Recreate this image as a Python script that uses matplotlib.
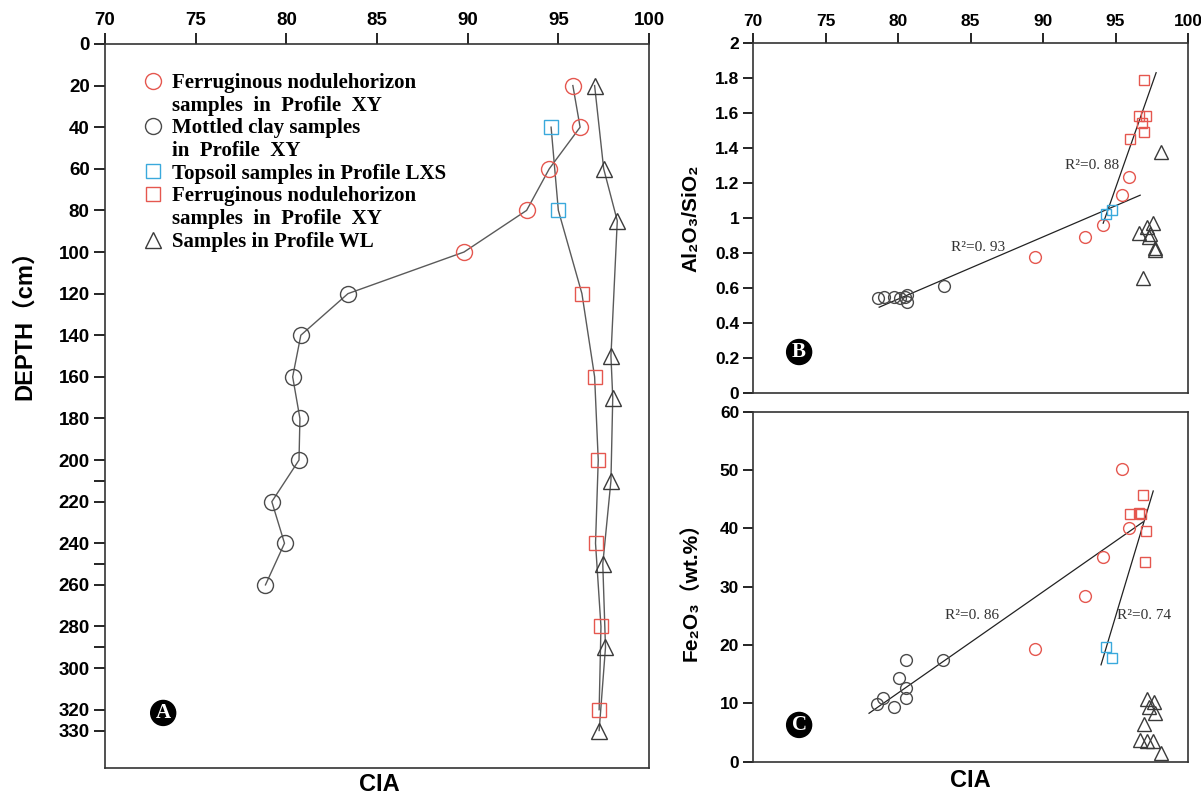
import matplotlib
matplotlib.use("Agg")
import matplotlib.pyplot as plt
from matplotlib.lines import Line2D

# colours
RED = "#e5574f"
BLUE = "#3aa9dc"
GREY = "#4a4a4a"
TRI = "#3a3a3a"
LINE = "#5a5a5a"

# ---- panel A : CIA vs depth ----
xy_red_depth = [20, 40, 60, 80, 100]
xy_red_cia = [95.8, 96.2, 94.5, 93.25, 89.8]
xy_black_depth = [120, 140, 160, 180, 200, 220, 240, 260]
xy_black_cia = [83.4, 80.8, 80.35, 80.75, 80.7, 79.2, 79.9, 78.85]
lxs_depth = [40, 80]
lxs_cia = [94.6, 95.0]
xy_sq_depth = [120, 160, 200, 240, 280, 320]
xy_sq_cia = [96.3, 97.0, 97.2, 97.05, 97.35, 97.25]
wl_depth = [20, 60, 85, 150, 170, 210, 250, 290, 330]
wl_cia = [97.0, 97.5, 98.25, 97.9, 98.0, 97.9, 97.45, 97.6, 97.25]

depth_ticks = [0, 20, 40, 60, 80, 100, 120, 140, 160, 180, 200, 210, 220, 240,
               250, 260, 280, 290, 300, 320, 330]
depth_labels = [str(t) if t not in (210, 250, 290) else "" for t in depth_ticks]
cia_ticks = [70, 75, 80, 85, 90, 95, 100]

# ---- panel B : Al2O3/SiO2 vs CIA ----
b_black_cia = [78.6, 79.0, 79.75, 80.15, 80.45, 80.6, 80.6, 83.2]
b_black_val = [0.54, 0.55, 0.55, 0.54, 0.55, 0.56, 0.52, 0.61]
b_red_cia = [89.45, 92.9, 94.15, 95.45, 95.9]
b_red_val = [0.775, 0.89, 0.96, 1.13, 1.235]
b_blue_cia = [94.35, 94.75]
b_blue_val = [1.02, 1.045]
b_sq_cia = [96.95, 96.65, 97.1, 96.85, 96.95, 96.0]
b_sq_val = [1.79, 1.58, 1.585, 1.54, 1.49, 1.45]
b_tri_cia = [98.15, 97.6, 97.15, 96.65, 97.35, 97.3, 97.7, 97.75, 96.9]
b_tri_val = [1.375, 0.97, 0.95, 0.915, 0.91, 0.89, 0.83, 0.815, 0.655]
b_fit1_x, b_fit1_y = [78.7, 96.7], [0.49, 1.13]
b_fit2_x, b_fit2_y = [94.15, 97.8], [0.97, 1.83]
b_ticks = [0, 0.2, 0.4, 0.6, 0.8, 1, 1.2, 1.4, 1.6, 1.8, 2]
b_labels = ["0", "0.2", "0.4", "0.6", "0.8", "1", "1.2", "1.4", "1.6", "1.8", "2"]

# ---- panel C : Fe2O3 vs CIA ----
c_black_cia = [78.55, 78.95, 79.75, 80.1, 80.55, 80.55, 80.55, 83.1]
c_black_val = [9.9, 11.0, 9.4, 14.4, 17.5, 12.6, 10.9, 17.4]
c_red_cia = [89.45, 92.9, 94.15, 95.9, 95.45]
c_red_val = [19.4, 28.4, 35.1, 40.0, 50.2]
c_blue_cia = [94.35, 94.75]
c_blue_val = [19.7, 17.8]
c_sq_cia = [96.9, 96.0, 96.65, 96.75, 97.1, 97.0]
c_sq_val = [45.7, 42.4, 42.6, 42.4, 39.5, 34.3]
c_tri_cia = [97.2, 97.65, 97.3, 97.75, 96.95, 96.7, 97.15, 97.55, 98.15]
c_tri_val = [10.7, 10.3, 9.3, 8.4, 6.5, 3.8, 3.6, 3.6, 1.5]
c_fit1_x, c_fit1_y = [78.0, 96.9], [8.3, 41.1]
c_fit2_x, c_fit2_y = [94.0, 97.6], [16.6, 46.4]
c_ticks = [0, 10, 20, 30, 40, 50, 60]

SANS = ["Liberation Sans", "Noto Sans CJK SC", "DejaVu Sans"]
SERIF = ["Liberation Serif", "DejaVu Serif"]
plt.rcParams["font.family"] = SANS
plt.rcParams["axes.edgecolor"] = "#333333"

fig = plt.figure(figsize=(12.01, 7.95), dpi=100)
axA = fig.add_axes([0.0874, 0.034, 0.4530, 0.9107])
axB = fig.add_axes([0.6270, 0.5057, 0.3622, 0.4403])
axC = fig.add_axes([0.6270, 0.0419, 0.3622, 0.4403])

for ax in (axA, axB, axC):
    for s in ax.spines.values():
        s.set_linewidth(1.2)


def badge(ax, x, y, letter):
    ax.text(x, y, letter, transform=ax.transAxes, ha="center", va="center",
            fontsize=15, fontweight="bold", family=SERIF, color="white",
            bbox=dict(boxstyle="circle,pad=0.12", fc="black", ec="black"))


# ---------- panel A ----------
axA.plot(xy_red_cia + xy_black_cia, xy_red_depth + xy_black_depth, color=LINE, lw=1)
axA.plot(lxs_cia + xy_sq_cia, lxs_depth + xy_sq_depth, color=LINE, lw=1)
axA.plot(wl_cia, wl_depth, color=LINE, lw=1)
axA.plot(xy_red_cia, xy_red_depth, "o", ms=11.5, mfc="none", mec=RED, mew=1)
axA.plot(xy_black_cia, xy_black_depth, "o", ms=11.5, mfc="none", mec=GREY, mew=1)
axA.plot(lxs_cia, lxs_depth, "s", ms=10, mfc="none", mec=BLUE, mew=1)
axA.plot(xy_sq_cia, xy_sq_depth, "s", ms=10, mfc="none", mec=RED, mew=1)
axA.plot(wl_cia, wl_depth, "^", ms=11, mfc="none", mec=TRI, mew=1)

axA.set_xlim(70, 100)
axA.set_ylim(348, 0)
axA.xaxis.tick_top()
axA.set_xticks(cia_ticks)
axA.set_yticks(depth_ticks)
axA.set_yticklabels(depth_labels)
axA.tick_params(direction="out", length=8, width=1.2, labelsize=13.5, pad=3)
for lab in axA.get_xticklabels() + axA.get_yticklabels():
    lab.set_fontweight("bold")
axA.xaxis.set_label_position("bottom")
axA.set_xlabel("CIA", fontsize=17, fontweight="bold")
axA.xaxis.set_label_coords(0.505, -0.007)
axA.xaxis.label.set_va("top")
axA.set_ylabel("DEPTH（cm）", fontsize=17, fontweight="bold")
axA.yaxis.set_label_coords(-0.127, 0.62)

blank = Line2D([], [], ls="none")
handles = [
    Line2D([], [], marker="o", ls="none", mfc="none", mec=RED, ms=11.5),
    blank,
    Line2D([], [], marker="o", ls="none", mfc="none", mec=GREY, ms=11.5),
    blank,
    Line2D([], [], marker="s", ls="none", mfc="none", mec=BLUE, ms=10),
    Line2D([], [], marker="s", ls="none", mfc="none", mec=RED, ms=10),
    blank,
    Line2D([], [], marker="^", ls="none", mfc="none", mec=TRI, ms=11),
]
labels = [
    "Ferruginous nodulehorizon",
    "samples  in  Profile  XY",
    "Mottled clay samples",
    "in  Profile  XY",
    "Topsoil samples in Profile LXS",
    "Ferruginous nodulehorizon",
    "samples  in  Profile  XY",
    "Samples in Profile WL",
]
axA.legend(handles, labels, loc="upper left", bbox_to_anchor=(0.069, 0.96),
           frameon=False, handlelength=1.0, handletextpad=0.4, borderpad=0,
           borderaxespad=0, labelspacing=0.13,
           prop=dict(family=SERIF, weight="bold", size=15))
badge(axA, 0.107, 0.076, "A")

# ---------- panel B ----------
axB.plot(b_fit1_x, b_fit1_y, color="#222222", lw=0.9)
axB.plot(b_fit2_x, b_fit2_y, color="#222222", lw=0.9)
axB.plot(b_black_cia, b_black_val, "o", ms=8.5, mfc="none", mec=GREY, mew=1)
axB.plot(b_red_cia, b_red_val, "o", ms=8.5, mfc="none", mec=RED, mew=1)
axB.plot(b_blue_cia, b_blue_val, "s", ms=7.5, mfc="none", mec=BLUE, mew=1)
axB.plot(b_sq_cia, b_sq_val, "s", ms=7.5, mfc="none", mec=RED, mew=1)
axB.plot(b_tri_cia, b_tri_val, "^", ms=10.5, mfc="none", mec=TRI, mew=1)
axB.text(85.5, 0.83, "R²=0. 93", ha="center", va="center", fontsize=11,
         family=SERIF, color="#333333")
axB.text(93.4, 1.30, "R²=0. 88", ha="center", va="center", fontsize=11,
         family=SERIF, color="#333333")
axB.set_xlim(70, 100)
axB.set_ylim(0, 2)
axB.xaxis.tick_top()
axB.set_xticks(cia_ticks)
axB.set_yticks(b_ticks)
axB.set_yticklabels(b_labels)
axB.tick_params(direction="out", length=7, width=1.2, labelsize=12.5, pad=3)
for lab in axB.get_xticklabels() + axB.get_yticklabels():
    lab.set_fontweight("bold")
axB.set_ylabel("Al₂O₃/SiO₂", fontsize=15, fontweight="bold")
axB.yaxis.set_label_coords(-0.12, 0.5)
badge(axB, 0.106, 0.117, "B")

# ---------- panel C ----------
axC.plot(c_fit1_x, c_fit1_y, color="#222222", lw=0.9)
axC.plot(c_fit2_x, c_fit2_y, color="#222222", lw=0.9)
axC.plot(c_black_cia, c_black_val, "o", ms=8.5, mfc="none", mec=GREY, mew=1)
axC.plot(c_red_cia, c_red_val, "o", ms=8.5, mfc="none", mec=RED, mew=1)
axC.plot(c_blue_cia, c_blue_val, "s", ms=7.5, mfc="none", mec=BLUE, mew=1)
axC.plot(c_sq_cia, c_sq_val, "s", ms=7.5, mfc="none", mec=RED, mew=1)
axC.plot(c_tri_cia, c_tri_val, "^", ms=10.5, mfc="none", mec=TRI, mew=1)
axC.text(85.1, 25.1, "R²=0. 86", ha="center", va="center", fontsize=11,
         family=SERIF, color="#333333")
axC.text(97.0, 25.1, "R²=0. 74", ha="center", va="center", fontsize=11,
         family=SERIF, color="#333333")
axC.set_xlim(70, 100)
axC.set_ylim(0, 60)
axC.set_xticks([])
axC.set_yticks(c_ticks)
axC.tick_params(direction="out", length=7, width=1.2, labelsize=12.5, pad=3)
for lab in axC.get_yticklabels():
    lab.set_fontweight("bold")
axC.set_xlabel("CIA", fontsize=17, fontweight="bold", labelpad=5)
axC.set_ylabel("Fe₂O₃（wt.%）", fontsize=15, fontweight="bold")
axC.yaxis.set_label_coords(-0.12, 0.5)
badge(axC, 0.106, 0.105, "C")

fig.savefig("out.png", dpi=100)
